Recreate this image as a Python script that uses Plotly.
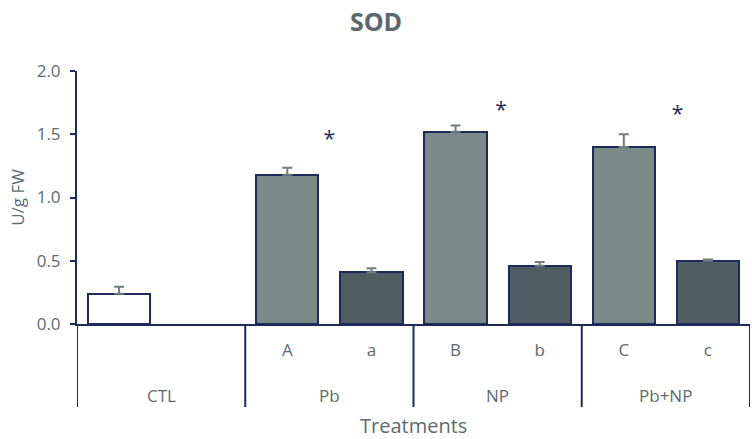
import plotly.graph_objects as go

# ---- data ----
slot_labels = ["", "", "A", "a", "B", "b", "C", "c"]
groups = ["CTL", "CTL", "Pb", "Pb", "NP", "NP", "Pb+NP", "Pb+NP"]
values = [0.24, None, 1.18, 0.41, 1.52, 0.46, 1.40, 0.50]
errors = [0.055, None, 0.055, 0.03, 0.05, 0.03, 0.10, 0.01]
star_x = [2.5, 4.54, 6.64]
star_y = [1.45, 1.68, 1.645]
y_ticks = [0.0, 0.5, 1.0, 1.5, 2.0]

# ---- styles ----
NAVY = "#1f2a5c"
TXT = "#5d6b6f"
WHITE = "#ffffff"
LIGHT = "#7a8a88"
DARK = "#4f5d63"
ERR = "#6f7f80"
FONT = "Open Sans"

def fill_for(lbl):
    if lbl == "":
        return WHITE
    return LIGHT if lbl.isupper() else DARK

xs = list(range(len(slot_labels)))
colors = [fill_for(l) for l in slot_labels]

fig = go.Figure()
fig.add_trace(go.Bar(
    x=xs, y=values, width=0.74,
    marker=dict(color=colors, line=dict(color=NAVY, width=2)),
    error_y=dict(type="data", array=errors, arrayminus=[0] * len(errors),
                 color=ERR, thickness=2, width=5),
    showlegend=False, hoverinfo="skip",
))
fig.add_trace(go.Scatter(
    x=star_x, y=star_y, mode="text", text=["*"] * len(star_x),
    textfont=dict(size=21, color=NAVY, family=FONT),
    showlegend=False, hoverinfo="skip",
))

# group boundaries and centres from data
bounds = [-0.5]
centres = []
start = 0
for i in range(1, len(groups) + 1):
    if i == len(groups) or groups[i] != groups[i - 1]:
        bounds.append(i - 0.5)
        centres.append(((start + i - 1) / 2, groups[start]))
        start = i

div_bottom = -(407 - 324) / 253
for b in bounds:
    fig.add_shape(type="line", xref="x", yref="paper", x0=b, x1=b,
                  y0=0, y1=div_bottom, line=dict(color=NAVY, width=2))
for cx, name in centres:
    fig.add_annotation(x=cx, xref="x", y=-(395 - 324) / 253, yref="paper",
                       text=name, showarrow=False, yanchor="middle",
                       font=dict(size=17, color=TXT, family=FONT))

fig.add_annotation(x=0.5, xref="paper", y=-(425 - 324) / 253, yref="paper",
                   text="Treatments", showarrow=False, yanchor="middle",
                   font=dict(size=20, color=TXT, family=FONT), borderpad=0)

fig.update_layout(
    width=752, height=439,
    margin=dict(l=77, r=2, t=71, b=115),
    paper_bgcolor="white", plot_bgcolor="white",
    font=dict(family=FONT, color=TXT),
    title=dict(text="<b>SOD</b>", x=0.5, xanchor="center",
               y=1 - 22 / 439, yanchor="middle", yref="container",
               font=dict(size=25, color="#5a686c", family=FONT)),
    bargap=0,
)
fig.update_xaxes(
    range=[-0.5, 7.5], tickvals=xs, ticktext=slot_labels,
    showline=True, linecolor=NAVY, linewidth=2, ticks="",
    showgrid=False, zeroline=False, tickfont=dict(size=17, color=TXT),
    ticklabelstandoff=10,
)
fig.update_yaxes(
    range=[0, 2], tickvals=y_ticks, tickformat=".1f",
    showline=True, linecolor=NAVY, linewidth=2, ticks="outside",
    ticklen=5, tickcolor=NAVY, tickwidth=2, showgrid=False, zeroline=False,
    tickfont=dict(size=17, color=TXT), ticklabelstandoff=6,
    title=dict(text="U/g FW", font=dict(size=17, color=TXT), standoff=8),
)

fig.write_html("out.html")
